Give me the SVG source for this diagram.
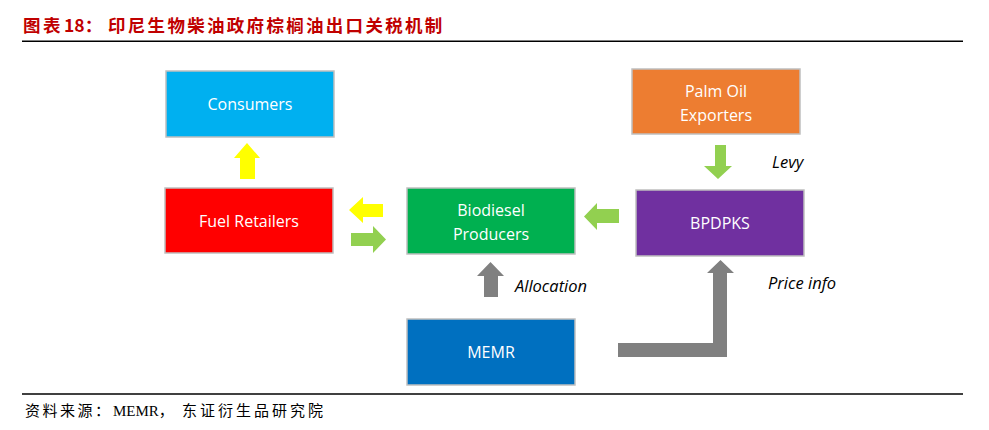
<svg xmlns="http://www.w3.org/2000/svg" width="989" height="430" viewBox="0 0 989 430">
<style>
.box{stroke:#BFBFBF;stroke-width:1.5}
.lbl{font-family:"Open Sans","Liberation Sans",sans-serif;font-size:16px;fill:#FFFFFF;text-anchor:middle}
.note{font-family:"Open Sans","Liberation Sans",sans-serif;font-size:16.5px;font-style:italic;fill:#000000}
.yel{fill:#FFFF00}
.grn{fill:#92D050}
.gry{fill:#808080}
</style>
<rect width="989" height="430" fill="#FFFFFF"/>
<text font-family="'Noto Sans CJK SC',sans-serif" font-weight="bold" font-size="17.5" fill="#C00000" y="32"><tspan x="23" letter-spacing="2.5">图表</tspan><tspan x="64">18：</tspan><tspan x="108" letter-spacing="2.3">印尼生物柴油政府棕榈油出口关税机制</tspan></text>
<line x1="22" y1="41.3" x2="963" y2="41.3" stroke="#000" stroke-width="1.5"/>
<g id="consumers"><rect class="box" x="166" y="71" width="168" height="66" fill="#00B0F0"/><text class="lbl" x="250" y="110">Consumers</text></g>
<g id="fuel-retailers"><rect class="box" x="165" y="188" width="168" height="65" fill="#FF0000"/><text class="lbl" x="249" y="227">Fuel Retailers</text></g>
<g id="biodiesel-producers"><rect class="box" x="407" y="188" width="168" height="66" fill="#00B050"/><text class="lbl" x="491" y="216">Biodiesel</text><text class="lbl" x="491" y="240">Producers</text></g>
<g id="palm-oil-exporters"><rect class="box" x="632" y="69" width="168" height="65" fill="#ED7D31"/><text class="lbl" x="716" y="97">Palm Oil</text><text class="lbl" x="716" y="121">Exporters</text></g>
<g id="bpdpks"><rect class="box" x="636" y="190" width="168" height="66" fill="#7030A0"/><text class="lbl" x="720" y="229">BPDPKS</text></g>
<g id="memr"><rect class="box" x="407" y="319" width="168" height="66" fill="#0070C0"/><text class="lbl" x="491" y="358">MEMR</text></g>
<g id="connectors">
<polygon class="yel" points="240,179 255,179 255,158 260,158 247,143 234,158 240,158"/>
<polygon class="yel" points="383,204 383,217 363,217 363,223 349,210 363,197 363,204"/>
<polygon class="grn" points="351,233 373,233 373,226 386,239.5 373,253 373,246 351,246"/>
<polygon class="grn" points="619,209 619,223 597,223 597,230 584,216.5 597,203 597,209"/>
<polygon class="grn" points="715,145 726,145 726,166 732,166 718,179 704,166 715,166"/>
<polygon class="gry" points="484,297 498,297 498,276 504,276 490.5,262 477,276 484,276"/>
<polygon class="gry" points="618,343 713,343 713,273 707,273 720.5,260 734,273 727,273 727,357 618,357"/>
<text class="note" x="772" y="168">Levy</text>
<text class="note" x="768" y="289">Price info</text>
<text class="note" x="515" y="292">Allocation</text>
</g>
<line x1="22" y1="394" x2="963" y2="394" stroke="#000" stroke-width="1.5"/>
<text font-family="'Liberation Serif','Noto Sans CJK SC',serif" font-size="15" fill="#000" y="416"><tspan x="25" letter-spacing="2.5">资料来源：</tspan><tspan x="113">MEMR，</tspan><tspan x="182" letter-spacing="3">东证衍生品研究院</tspan></text>
</svg>
